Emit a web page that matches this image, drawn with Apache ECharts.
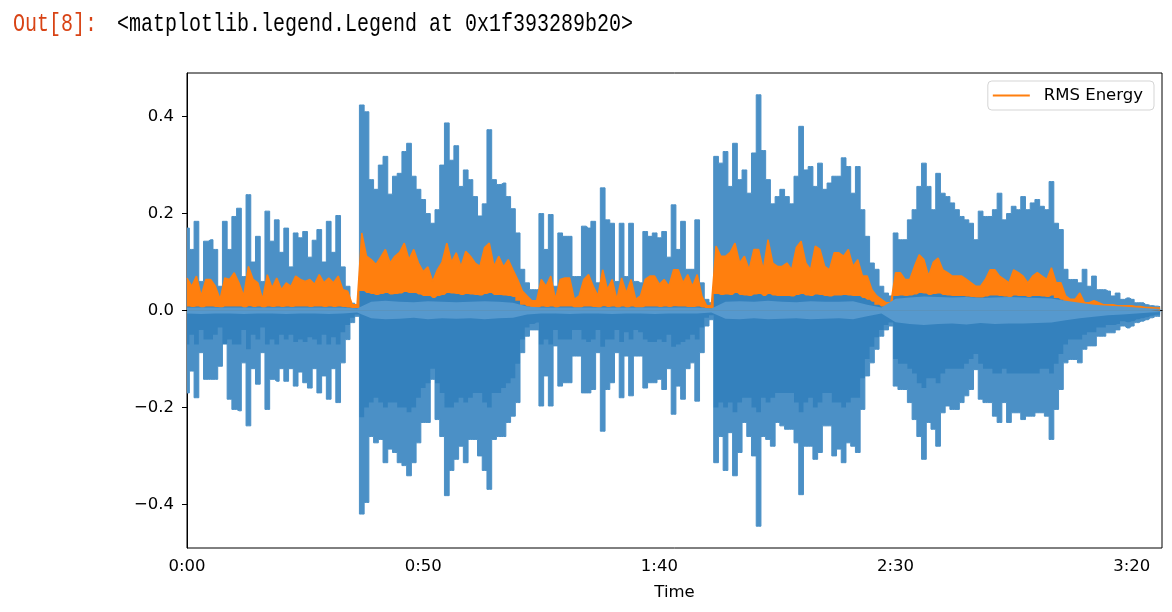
<!DOCTYPE html>
<html><head><meta charset="utf-8">
<script src="https://cdn.jsdelivr.net/npm/echarts@6/dist/echarts.min.js"></script>
<style>html,body{margin:0;padding:0;background:#fff;} #c{width:1172px;height:612px;}</style>
</head><body><div id="c"></div>
<script>
// seconds per sample of the 1-second arrays
const DT = 1;
// seconds per sample of the band arrays
const BAND_DT = 3;
const T_END = 206.4;

// upper (max) waveform envelope, one value per second
const WAVE_MAX = [
0.170,0.126,0.184,0.060,0.143,0.146,0.126,0.050,0.184,0.126,
0.194,0.211,0.070,0.239,0.100,0.153,0.060,0.205,0.143,0.187,
0.120,0.170,0.090,0.160,0.150,0.163,0.110,0.145,0.167,0.100,
0.184,0.120,0.196,0.090,0.050,0.015,0.010,0.424,0.410,0.270,
0.250,0.300,0.318,0.240,0.277,0.283,0.328,0.345,0.277,0.250,
0.229,0.200,0.180,0.208,0.300,0.387,0.310,0.340,0.256,0.290,
0.270,0.235,0.195,0.220,0.373,0.270,0.260,0.263,0.235,0.210,
0.160,0.085,0.057,0.043,0.043,0.200,0.126,0.198,0.050,0.160,
0.153,0.153,0.070,0.070,0.174,0.170,0.184,0.057,0.253,0.187,
0.180,0.060,0.180,0.070,0.180,0.060,0.057,0.163,0.153,0.160,
0.150,0.163,0.110,0.218,0.126,0.184,0.085,0.085,0.187,0.057,
0.023,0.016,0.318,0.304,0.328,0.256,0.345,0.270,0.290,0.242,
0.325,0.445,0.330,0.270,0.220,0.235,0.250,0.235,0.220,0.277,
0.380,0.290,0.297,0.256,0.304,0.250,0.263,0.277,0.277,0.315,
0.297,0.242,0.297,0.208,0.153,0.098,0.085,0.050,0.036,0.030,
0.160,0.146,0.146,0.187,0.208,0.256,0.304,0.256,0.208,0.283,
0.242,0.235,0.222,0.208,0.194,0.187,0.180,0.146,0.205,0.194,
0.194,0.208,0.242,0.187,0.200,0.215,0.208,0.235,0.208,0.222,
0.229,0.215,0.208,0.266,0.180,0.167,0.085,0.064,0.064,0.057,
0.085,0.050,0.071,0.043,0.043,0.040,0.030,0.036,0.023,0.026,
0.023,0.016,0.016,0.012,0.010,0.009,0.008];

// lower (min) waveform envelope, one value per second
const WAVE_MIN = [
-0.170,-0.125,-0.180,-0.087,-0.142,-0.142,-0.142,-0.115,-0.067,-0.183,
-0.204,-0.207,-0.108,-0.238,-0.120,-0.152,-0.087,-0.204,-0.142,-0.146,
-0.120,-0.146,-0.120,-0.156,-0.127,-0.149,-0.160,-0.120,-0.170,-0.135,
-0.183,-0.120,-0.190,-0.108,-0.060,-0.025,-0.012,-0.420,-0.396,-0.260,
-0.273,-0.266,-0.314,-0.286,-0.293,-0.314,-0.320,-0.341,-0.314,-0.273,
-0.231,-0.231,-0.142,-0.225,-0.260,-0.382,-0.330,-0.307,-0.280,-0.314,
-0.266,-0.266,-0.300,-0.330,-0.369,-0.266,-0.260,-0.260,-0.231,-0.218,
-0.190,-0.087,-0.053,-0.040,-0.040,-0.197,-0.135,-0.197,-0.073,-0.156,
-0.149,-0.149,-0.094,-0.094,-0.170,-0.170,-0.163,-0.087,-0.249,-0.163,
-0.149,-0.087,-0.180,-0.094,-0.176,-0.094,-0.094,-0.160,-0.149,-0.149,
-0.142,-0.163,-0.120,-0.214,-0.156,-0.183,-0.120,-0.108,-0.187,-0.087,
-0.032,-0.019,-0.314,-0.260,-0.330,-0.252,-0.341,-0.293,-0.231,-0.260,
-0.300,-0.445,-0.260,-0.266,-0.280,-0.231,-0.238,-0.245,-0.245,-0.273,
-0.380,-0.280,-0.280,-0.307,-0.293,-0.238,-0.238,-0.300,-0.286,-0.314,
-0.273,-0.280,-0.293,-0.204,-0.135,-0.108,-0.080,-0.053,-0.040,-0.032,
-0.156,-0.163,-0.163,-0.190,-0.225,-0.260,-0.307,-0.231,-0.245,-0.280,
-0.211,-0.197,-0.204,-0.204,-0.190,-0.176,-0.163,-0.122,-0.183,-0.190,
-0.190,-0.218,-0.231,-0.190,-0.231,-0.211,-0.211,-0.225,-0.218,-0.218,
-0.211,-0.211,-0.218,-0.266,-0.204,-0.163,-0.108,-0.101,-0.101,-0.108,
-0.080,-0.073,-0.073,-0.053,-0.053,-0.046,-0.046,-0.040,-0.032,-0.036,
-0.032,-0.025,-0.022,-0.019,-0.015,-0.012,-0.012];

// dense (darker) part of the negative half, one value per second
const CORE_MIN = [
-0.070,-0.050,-0.070,-0.040,-0.060,-0.060,-0.050,-0.035,-0.070,-0.060,
-0.070,-0.070,-0.040,-0.080,-0.050,-0.060,-0.035,-0.070,-0.060,-0.070,
-0.050,-0.060,-0.050,-0.065,-0.060,-0.065,-0.055,-0.060,-0.070,-0.050,
-0.070,-0.055,-0.070,-0.045,-0.030,-0.015,-0.008,-0.220,-0.200,-0.190,
-0.180,-0.190,-0.200,-0.190,-0.190,-0.200,-0.200,-0.210,-0.200,-0.180,
-0.160,-0.150,-0.120,-0.150,-0.170,-0.200,-0.200,-0.190,-0.180,-0.190,
-0.180,-0.170,-0.170,-0.190,-0.200,-0.170,-0.170,-0.160,-0.150,-0.140,
-0.110,-0.060,-0.035,-0.028,-0.025,-0.070,-0.060,-0.070,-0.040,-0.060,
-0.060,-0.060,-0.040,-0.040,-0.060,-0.065,-0.060,-0.040,-0.075,-0.060,
-0.060,-0.040,-0.065,-0.045,-0.060,-0.040,-0.045,-0.060,-0.065,-0.065,
-0.060,-0.065,-0.050,-0.075,-0.070,-0.065,-0.060,-0.050,-0.060,-0.035,
-0.015,-0.010,-0.200,-0.190,-0.200,-0.190,-0.210,-0.190,-0.180,-0.180,
-0.200,-0.210,-0.180,-0.190,-0.180,-0.170,-0.170,-0.170,-0.170,-0.190,
-0.210,-0.190,-0.180,-0.200,-0.190,-0.170,-0.170,-0.190,-0.190,-0.200,
-0.190,-0.180,-0.180,-0.140,-0.100,-0.075,-0.055,-0.040,-0.030,-0.025,
-0.100,-0.110,-0.110,-0.120,-0.130,-0.150,-0.160,-0.140,-0.140,-0.150,
-0.130,-0.120,-0.120,-0.120,-0.120,-0.110,-0.100,-0.090,-0.110,-0.120,
-0.120,-0.130,-0.130,-0.120,-0.130,-0.130,-0.130,-0.130,-0.130,-0.130,
-0.130,-0.120,-0.120,-0.130,-0.110,-0.090,-0.070,-0.060,-0.060,-0.060,
-0.050,-0.045,-0.045,-0.035,-0.035,-0.030,-0.030,-0.028,-0.022,-0.024,
-0.022,-0.018,-0.016,-0.014,-0.011,-0.009,-0.009];

// dense (darker) part of the positive half, under the RMS curve, one value per second
const CORE_MAX = [
0.008,0.007,0.008,0.006,0.008,0.008,0.007,0.006,0.008,0.008,
0.008,0.008,0.006,0.009,0.007,0.008,0.006,0.008,0.007,0.008,
0.007,0.008,0.007,0.008,0.008,0.008,0.007,0.008,0.008,0.007,
0.008,0.007,0.008,0.007,0.006,0.005,0.005,0.040,0.036,0.034,
0.032,0.034,0.036,0.033,0.034,0.035,0.038,0.036,0.036,0.033,
0.030,0.030,0.026,0.030,0.032,0.036,0.035,0.034,0.032,0.034,
0.033,0.032,0.031,0.034,0.036,0.032,0.032,0.031,0.030,0.028,
0.020,0.012,0.008,0.006,0.006,0.008,0.007,0.008,0.006,0.008,
0.008,0.008,0.006,0.006,0.008,0.008,0.007,0.006,0.009,0.007,
0.008,0.006,0.008,0.006,0.008,0.006,0.006,0.008,0.008,0.008,
0.007,0.008,0.007,0.009,0.008,0.008,0.007,0.007,0.008,0.006,
0.004,0.004,0.034,0.032,0.033,0.032,0.036,0.032,0.031,0.030,
0.033,0.034,0.030,0.034,0.031,0.030,0.030,0.030,0.029,0.032,
0.034,0.031,0.030,0.033,0.032,0.030,0.029,0.031,0.031,0.032,
0.031,0.030,0.030,0.026,0.022,0.018,0.012,0.008,0.006,0.006,
0.030,0.031,0.030,0.031,0.033,0.036,0.035,0.032,0.034,0.035,
0.032,0.031,0.030,0.030,0.030,0.029,0.028,0.027,0.027,0.029,
0.031,0.031,0.030,0.029,0.028,0.031,0.030,0.030,0.028,0.030,
0.030,0.029,0.028,0.031,0.026,0.022,0.016,0.012,0.012,0.012,
0.008,0.007,0.008,0.006,0.005,0.005,0.005,0.004,0.004,0.004,
0.004,0.003,0.003,0.003,0.003,0.002,0.002];

// light band around zero, one value every BAND_DT seconds
const BAND_MAX = [
0.006,0.006,0.006,0.006,0.006,0.006,0.006,0.006,0.006,0.006,0.006,0.006,
0.004,0.018,0.020,0.018,0.017,0.019,0.018,0.017,0.018,0.019,0.018,0.016,
0.008,0.006,0.006,0.006,0.006,0.006,0.006,0.006,0.006,0.006,0.006,0.006,0.006,
0.004,0.018,0.019,0.018,0.020,0.018,0.017,0.019,0.018,0.018,0.019,
0.012,0.006,
0.024,0.027,0.029,0.028,0.027,0.028,0.026,0.027,0.028,0.027,0.026,0.025,
0.020,0.016,0.012,0.010,0.008,0.006,0.004,0.003];
const BAND_MIN = [
-0.006,-0.007,-0.006,-0.006,-0.007,-0.006,-0.006,-0.007,-0.006,-0.006,-0.007,-0.006,
-0.004,-0.016,-0.018,-0.017,-0.015,-0.018,-0.016,-0.017,-0.016,-0.018,-0.016,-0.015,
-0.008,-0.006,-0.006,-0.007,-0.006,-0.006,-0.007,-0.006,-0.006,-0.007,-0.006,-0.006,-0.006,
-0.004,-0.017,-0.018,-0.016,-0.018,-0.017,-0.016,-0.018,-0.017,-0.016,-0.018,
-0.012,-0.006,
-0.024,-0.028,-0.030,-0.028,-0.027,-0.029,-0.026,-0.028,-0.027,-0.027,-0.026,-0.025,
-0.020,-0.016,-0.013,-0.010,-0.008,-0.006,-0.004,-0.003];

// RMS energy (upper edge of the orange curve), one value per second
const RMS = [
0.067,0.050,0.071,0.030,0.064,0.064,0.050,0.023,0.067,0.064,
0.078,0.057,0.030,0.091,0.064,0.057,0.023,0.074,0.047,0.067,
0.043,0.057,0.050,0.071,0.064,0.060,0.064,0.054,0.074,0.057,
0.067,0.057,0.071,0.043,0.040,0.012,0.012,0.160,0.112,0.105,
0.095,0.110,0.126,0.098,0.112,0.120,0.139,0.105,0.126,0.098,
0.080,0.090,0.060,0.084,0.100,0.139,0.100,0.119,0.091,0.122,
0.112,0.098,0.091,0.130,0.139,0.091,0.112,0.090,0.105,0.084,
0.064,0.040,0.030,0.020,0.020,0.064,0.050,0.071,0.023,0.064,
0.067,0.067,0.023,0.030,0.064,0.074,0.050,0.030,0.084,0.043,
0.064,0.023,0.067,0.036,0.064,0.023,0.030,0.064,0.071,0.071,
0.054,0.064,0.050,0.084,0.084,0.057,0.074,0.050,0.074,0.030,
0.010,0.010,0.133,0.112,0.112,0.120,0.139,0.098,0.112,0.084,
0.126,0.126,0.084,0.146,0.098,0.091,0.091,0.098,0.084,0.130,
0.143,0.098,0.084,0.133,0.126,0.091,0.084,0.119,0.119,0.112,
0.126,0.091,0.105,0.071,0.071,0.043,0.030,0.023,0.016,0.016,
0.078,0.078,0.064,0.064,0.091,0.115,0.105,0.071,0.100,0.108,
0.084,0.078,0.071,0.071,0.071,0.064,0.057,0.050,0.050,0.064,
0.084,0.084,0.071,0.064,0.057,0.084,0.078,0.071,0.057,0.071,
0.078,0.071,0.064,0.088,0.057,0.057,0.030,0.023,0.023,0.036,
0.016,0.016,0.020,0.016,0.012,0.012,0.012,0.010,0.010,0.010,
0.010,0.008,0.008,0.006,0.006,0.005,0.005];

const X_TICKS = [0, 50, 100, 150, 200];
const X_TICK_LABELS = ['0:00', '0:50', '1:40', '2:30', '3:20'];
const Y_TICKS = [-0.4, -0.2, 0, 0.2, 0.4];
const Y_TICK_LABELS = ['\u22120.4', '\u22120.2', '0.0', '0.2', '0.4'];

const PROMPT = 'Out[8]:';
const OUT_TEXT = '<matplotlib.legend.Legend at 0x1f393289b20>';

function pairs(arr, dt) { return arr.map((v, i) => [i * dt, v]); }
function lookup(ticks, labels, v) {
  const i = ticks.findIndex(t => Math.abs(t - v) < 1e-9);
  return i < 0 ? '' : labels[i];
}

const C_OUTER = '#4b90c6';
const C_CORE = '#3481bd';
const C_BAND = '#5699ce';
const C_RMS = '#ff7f0e';
const FONT = 'DejaVu Sans';

function area(data, color, z, step, lw) {
  return {
    type: 'line', data, step: step ? 'middle' : false, symbol: 'none', z, silent: true,
    animation: false, lineStyle: { width: lw, color }, itemStyle: { color },
    areaStyle: { color, opacity: 1, origin: 0 }
  };
}

const chart = echarts.init(document.getElementById('c'), null, { renderer: 'canvas' });
chart.setOption({
  animation: false,
  backgroundColor: '#fff',
  textStyle: { fontFamily: FONT },
  graphic: [
    { type: 'text', x: 13, y: 12, scaleY: 1.25,
      style: { text: PROMPT, fill: '#d84315', font: '20px "Liberation Mono"', textVerticalAlign: 'top' } },
    { type: 'text', x: 117, y: 12, scaleY: 1.25,
      style: { text: OUT_TEXT, fill: '#000', font: '20px "Liberation Mono"', textVerticalAlign: 'top' } }
  ],
  grid: { left: 187, right: 10, top: 73, bottom: 64, show: true, borderColor: '#000', borderWidth: 1, backgroundColor: 'transparent' },
  legend: {
    data: [{ name: 'RMS Energy', icon: 'rect' }],
    right: 18, top: 81, itemWidth: 37, itemHeight: 2,
    backgroundColor: '#fff', borderColor: '#d5d5d5', borderWidth: 1, borderRadius: 4,
    padding: [6, 11, 6, 5],
    textStyle: { fontSize: 16.5, fontFamily: FONT, color: '#000', padding: [0, 0, 0, 9] }
  },
  xAxis: {
    type: 'value', min: 0, max: T_END,
    name: 'Time', nameLocation: 'middle', nameGap: 36,
    nameTextStyle: { fontSize: 16.5, color: '#000', fontFamily: FONT },
    axisLine: { show: true, lineStyle: { color: '#000', width: 1 } },
    axisTick: { show: true, customValues: X_TICKS, length: 5, lineStyle: { color: '#000' } },
    axisLabel: { customValues: X_TICKS, formatter: v => lookup(X_TICKS, X_TICK_LABELS, v),
      fontSize: 16.5, color: '#000', margin: 10, fontFamily: FONT },
    splitLine: { show: false }
  },
  yAxis: {
    type: 'value', min: -0.49, max: 0.49,
    axisLine: { show: true, lineStyle: { color: '#000', width: 1 } },
    axisTick: { show: true, customValues: Y_TICKS, length: 5, lineStyle: { color: '#000' } },
    axisLabel: { customValues: Y_TICKS, formatter: v => lookup(Y_TICKS, Y_TICK_LABELS, v),
      fontSize: 16.5, color: '#000', margin: 13, fontFamily: FONT },
    splitLine: { show: false }
  },
  series: [
    area(pairs(WAVE_MAX, DT), C_OUTER, 2, true, 1),
    area(pairs(WAVE_MIN, DT), C_OUTER, 2, true, 1),
    area(pairs(CORE_MIN, DT), C_CORE, 3, true, 0),
    Object.assign(area(pairs(RMS, DT), C_RMS, 4, false, 1.5), { name: 'RMS Energy' }),
    area(pairs(CORE_MAX, DT), C_CORE, 5, true, 0),
    area(pairs(BAND_MAX, BAND_DT), C_BAND, 6, false, 0),
    area(pairs(BAND_MIN, BAND_DT), C_BAND, 6, false, 0)
  ]
});
</script></body></html>
